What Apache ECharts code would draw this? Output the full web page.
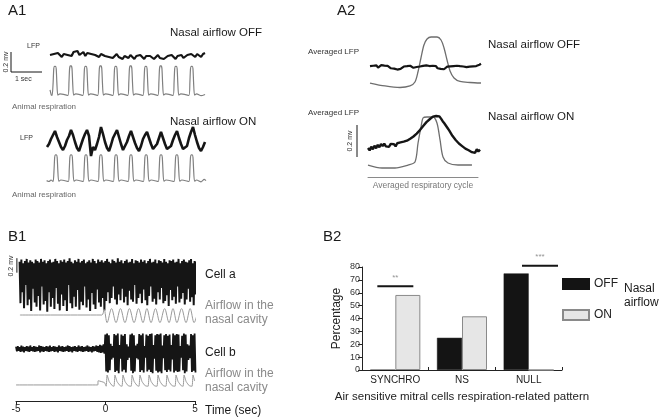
<!DOCTYPE html>
<html><head><meta charset="utf-8">
<script src="https://cdn.jsdelivr.net/npm/echarts@6/dist/echarts.min.js"></script>
<style>html,body{margin:0;padding:0;background:#fff}#c{width:661px;height:420px}</style>
</head><body><div id="c"></div>
<script>
// ---------------- DATA ----------------
// A1: LFP (mV), sampled uniformly along the trace
const lfpOffA1 = [
0.01,-0.01,0.02,0.00,0.03,0.01,-0.01,0.02,0.04,0.01,
0.03,0.00,0.04,0.02,0.05,0.01,0.03,0.04,0.00,0.03,
0.05,0.02,0.04,0.01,0.03,-0.01,0.02,0.04,0.00,0.02,
-0.01,0.01,-0.02,0.00,0.02,-0.01,0.01,-0.03,0.00,0.01,
-0.02,0.01,-0.01,-0.03,0.00,-0.02,0.01,-0.01,-0.03,0.00,
-0.02,0.00,-0.01,-0.03,-0.01,0.01,-0.02,0.00,-0.03,-0.01,
0.00,-0.02,0.01,-0.01,-0.03,0.00,-0.01,0.01,-0.02,0.00,
0.01,-0.01,0.02,0.00,-0.01,0.02,0.01,-0.01,0.02,0.03];
const lfpOnA1 = [
-0.05,-0.02,0.03,0.07,0.11,0.05,0.00,-0.05,-0.08,-0.04,
0.02,0.06,0.12,0.07,0.00,-0.06,-0.09,-0.03,0.03,0.08,
0.12,0.06,-0.14,-0.05,-0.08,-0.02,0.05,0.15,0.08,0.00,
-0.06,-0.09,-0.03,0.04,0.08,0.12,0.05,-0.02,-0.08,-0.07,
0.00,0.06,0.11,0.05,-0.01,-0.06,-0.09,-0.04,0.03,0.07,
0.10,0.04,-0.02,-0.07,-0.08,-0.02,0.04,0.10,0.04,-0.02,
-0.07,-0.09,-0.04,0.02,0.07,0.11,0.04,-0.02,-0.07,-0.09,
-0.04,0.04,0.10,0.15,0.07,0.00,-0.06,-0.09,-0.05,0.00];
// A1: animal respiration [time s, normalised amplitude]
const respOffA1 = [[0.13,0.22],[0.17,0.06],
[0.20,0.05],[0.23,0.45],[0.25,0.88],[0.275,0.96],[0.305,0.96],[0.33,0.88],[0.35,0.45],[0.38,0.06],[0.45,0.10],
[0.71,0.05],[0.74,0.45],[0.76,0.88],[0.785,0.97],[0.815,0.97],[0.84,0.88],[0.86,0.45],[0.89,0.06],[0.96,0.10],
[1.19,0.05],[1.22,0.45],[1.24,0.88],[1.265,0.96],[1.295,0.96],[1.32,0.88],[1.34,0.45],[1.37,0.06],[1.44,0.10],
[1.67,0.05],[1.70,0.45],[1.72,0.88],[1.745,0.97],[1.775,0.97],[1.80,0.88],[1.82,0.45],[1.85,0.06],[1.92,0.10],
[2.16,0.05],[2.19,0.45],[2.21,0.88],[2.235,0.96],[2.265,0.96],[2.29,0.88],[2.31,0.45],[2.34,0.06],[2.41,0.10],
[2.64,0.05],[2.67,0.45],[2.69,0.88],[2.715,0.97],[2.745,0.97],[2.77,0.88],[2.79,0.45],[2.82,0.06],[2.89,0.10],
[3.13,0.05],[3.16,0.45],[3.18,0.88],[3.205,0.96],[3.235,0.96],[3.26,0.88],[3.28,0.45],[3.31,0.06],[3.38,0.10],
[3.61,0.05],[3.64,0.45],[3.66,0.88],[3.685,0.97],[3.715,0.97],[3.74,0.88],[3.76,0.45],[3.79,0.06],[3.86,0.10],
[4.10,0.05],[4.13,0.45],[4.15,0.88],[4.175,0.96],[4.205,0.96],[4.23,0.88],[4.25,0.45],[4.28,0.06],[4.35,0.10],
[4.61,0.05],[4.64,0.45],[4.66,0.88],[4.685,0.96],[4.715,0.96],[4.74,0.88],[4.76,0.45],[4.79,0.06],[4.86,0.10],
[5.00,0.04],[5.13,0.08]];
const respOnA1 = [[0.02,0.08],[0.10,0.05],[0.16,0.10],
[0.23,0.05],[0.26,0.45],[0.28,0.86],[0.305,0.94],[0.335,0.94],[0.36,0.86],[0.38,0.45],[0.41,0.06],[0.48,0.10],
[0.72,0.05],[0.75,0.45],[0.77,0.86],[0.795,0.94],[0.825,0.94],[0.85,0.86],[0.87,0.45],[0.90,0.06],[0.97,0.10],
[1.20,0.05],[1.23,0.45],[1.25,0.86],[1.275,0.94],[1.305,0.94],[1.33,0.86],[1.35,0.45],[1.38,0.06],[1.45,0.10],
[1.68,0.05],[1.71,0.45],[1.73,0.86],[1.755,0.94],[1.785,0.94],[1.81,0.86],[1.83,0.45],[1.86,0.06],[1.93,0.10],
[2.17,0.05],[2.20,0.45],[2.22,0.86],[2.245,0.94],[2.275,0.94],[2.30,0.86],[2.32,0.45],[2.35,0.06],[2.42,0.10],
[2.65,0.05],[2.68,0.45],[2.70,0.86],[2.725,0.94],[2.755,0.94],[2.78,0.86],[2.80,0.45],[2.83,0.06],[2.90,0.10],
[3.14,0.05],[3.17,0.45],[3.19,0.86],[3.215,0.94],[3.245,0.94],[3.27,0.86],[3.29,0.45],[3.32,0.06],[3.39,0.10],
[3.62,0.05],[3.65,0.45],[3.67,0.86],[3.695,0.94],[3.725,0.94],[3.75,0.86],[3.77,0.45],[3.80,0.06],[3.87,0.10],
[4.13,0.05],[4.16,0.45],[4.18,0.86],[4.205,0.94],[4.235,0.94],[4.26,0.86],[4.28,0.45],[4.31,0.06],[4.38,0.10],
[4.61,0.05],[4.64,0.45],[4.66,0.86],[4.685,0.94],[4.715,0.94],[4.74,0.86],[4.76,0.45],[4.79,0.06],[4.86,0.10],
[5.00,0.04],[5.10,0.12],[5.16,0.08]];
const scaleA1 = [[0,0.2],[0,0],[1,0]];           // 0.2 mV / 1 s

// A2: averaged LFP (mV) over one respiratory cycle, and averaged respiration [phase, amplitude]
const lfpOffA2 = [
0.005,-0.006,0.008,0.000,0.010,-0.004,0.006,0.012,0.002,0.009,
-0.003,0.007,0.000,-0.008,0.004,-0.010,-0.004,-0.016,-0.008,-0.012,
-0.004,0.003,-0.006,0.005,-0.002,0.008,0.002,-0.005,0.006,0.000,
0.009,0.003,-0.004,0.007,0.001,0.010,-0.002,0.006,0.000,0.008,
-0.003,0.005,-0.008,-0.002,-0.012,-0.006,-0.014,-0.004,0.002,-0.006,
0.004,-0.003,0.006,0.000,0.008,-0.002,0.005,0.010,0.003,0.009,
-0.001,0.007,0.002,0.010,0.004,0.012,0.006,0.010,0.014,0.020];
const lfpOnA2 = [
0.100,0.085,0.108,0.092,0.115,0.098,0.120,0.105,0.125,0.112,
0.128,0.110,0.122,0.108,0.126,0.114,0.124,0.110,0.130,0.118,
0.135,0.124,0.140,0.130,0.146,0.138,0.158,0.150,0.172,0.165,
0.190,0.185,0.212,0.220,0.238,0.245,0.262,0.270,0.280,0.286,
0.296,0.290,0.300,0.292,0.298,0.284,0.268,0.255,0.248,0.225,
0.210,0.198,0.176,0.168,0.150,0.145,0.128,0.132,0.112,0.118,
0.096,0.104,0.086,0.094,0.074,0.084,0.070,0.092,0.078,0.090];
const respOffA2 = [[0,0.113],[0.135,0.057],[0.27,0.028],[0.36,0.057],[0.405,0.132],[0.432,0.321],[0.459,0.585],[0.486,0.83],[0.514,0.943],[0.55,0.981],[0.604,0.981],[0.64,0.925],[0.667,0.774],[0.694,0.547],[0.721,0.34],[0.757,0.208],[0.811,0.142],[0.901,0.123],[1,0.113]];
const respOnA2 = [[0,0.071],[0.127,0.018],[0.245,0.018],[0.364,0.071],[0.427,0.125],[0.455,0.464],[0.482,0.75],[0.5,0.911],[0.536,0.929],[0.591,0.929],[0.627,0.821],[0.655,0.518],[0.682,0.214],[0.727,0.107],[0.818,0.071],[0.945,0.071]];
const scaleA2 = [[0,0],[0,0.2]];

// B1: unit recordings, spike envelope (upper / lower excursion, mV) every 0.1 s
const cellATop = [
0.12,0.15,0.10,0.13,0.16,0.11,0.14,0.12,0.10,0.15,
0.13,0.11,0.16,0.12,0.14,0.10,0.13,0.15,0.11,0.12,
0.16,0.13,0.10,0.14,0.12,0.15,0.11,0.13,0.17,0.12,
0.10,0.14,0.12,0.16,0.11,0.13,0.15,0.10,0.12,0.14,
0.11,0.16,0.13,0.10,0.15,0.12,0.14,0.11,0.13,0.16,
0.12,0.10,0.15,0.13,0.11,0.17,0.12,0.14,0.10,0.13,
0.15,0.11,0.12,0.16,0.10,0.14,0.13,0.11,0.15,0.12,
0.14,0.10,0.13,0.16,0.11,0.12,0.15,0.10,0.14,0.13,
0.11,0.16,0.12,0.10,0.14,0.13,0.15,0.11,0.12,0.16,
0.10,0.13,0.15,0.12,0.11,0.14,0.16,0.10,0.13,0.12,
0.14];
const cellABot = [
-0.45,-0.30,-0.52,-0.20,-0.48,-0.40,-0.56,-0.25,-0.44,-0.50,
-0.35,-0.55,-0.22,-0.47,-0.42,-0.57,-0.30,-0.50,-0.38,-0.53,
-0.24,-0.46,-0.55,-0.33,-0.49,-0.41,-0.56,-0.20,-0.45,-0.52,
-0.36,-0.50,-0.27,-0.54,-0.43,-0.48,-0.22,-0.51,-0.40,-0.56,
-0.31,-0.47,-0.53,-0.26,-0.44,-0.50,-0.38,-0.55,
-0.42,-0.30,-0.45,-0.38,-0.22,-0.40,-0.47,-0.33,-0.41,-0.25,
-0.44,-0.36,-0.48,-0.28,-0.40,-0.43,-0.20,-0.46,-0.38,-0.32,
-0.45,-0.26,-0.41,-0.48,-0.35,-0.22,-0.43,-0.39,-0.47,-0.30,
-0.40,-0.24,-0.45,-0.42,-0.34,-0.49,-0.27,-0.41,-0.36,-0.46,
-0.22,-0.44,-0.39,-0.31,-0.47,-0.40,-0.25,-0.43,-0.37,-0.48,
-0.33,-0.42,-0.30];
const cellBTop = [
0.07,0.08,0.06,0.09,0.07,0.06,0.08,0.07,0.09,0.06,
0.08,0.07,0.06,0.09,0.08,0.07,0.06,0.08,0.07,0.09,
0.06,0.08,0.07,0.06,0.09,0.07,0.08,0.06,0.07,0.09,
0.08,0.06,0.07,0.08,0.06,0.09,0.07,0.08,0.06,0.07,
0.09,0.07,0.06,0.08,0.07,0.09,0.08,0.10,0.09,0.11,
0.28,0.30,0.27,0.12,0.08,0.29,0.27,0.30,0.10,0.28,
0.26,0.29,0.11,0.07,0.28,0.30,0.27,0.09,0.12,0.29,
0.27,0.30,0.08,0.28,0.26,0.29,0.30,0.10,0.27,0.29,
0.28,0.30,0.09,0.27,0.29,0.26,0.28,0.10,0.30,0.27,
0.29,0.28,0.08,0.26,0.30,0.28,0.11,0.09,0.29,0.27,
0.30];
const cellBBot = [
-0.01,0.00,-0.02,-0.01,-0.03,0.00,-0.01,-0.02,0.00,-0.01,
-0.02,-0.01,0.00,-0.03,-0.01,-0.02,0.00,-0.01,-0.02,-0.01,
0.00,-0.02,-0.01,-0.03,0.00,-0.01,-0.02,-0.01,0.00,-0.02,
-0.01,-0.03,0.00,-0.01,-0.02,0.00,-0.01,-0.02,-0.01,0.00,
-0.02,-0.01,-0.03,-0.01,0.00,-0.02,-0.03,-0.04,-0.03,-0.05,
-0.36,-0.38,-0.34,-0.15,-0.12,-0.37,-0.35,-0.39,-0.14,-0.36,
-0.33,-0.38,-0.16,-0.12,-0.35,-0.39,-0.36,-0.13,-0.15,-0.37,
-0.34,-0.38,-0.12,-0.36,-0.33,-0.37,-0.39,-0.14,-0.35,-0.38,
-0.36,-0.39,-0.13,-0.34,-0.37,-0.33,-0.36,-0.15,-0.38,-0.35,
-0.37,-0.36,-0.12,-0.34,-0.39,-0.36,-0.16,-0.13,-0.37,-0.35,
-0.38];
const cellAStart = -4.80, cellBStart = -5.0, spikeStep = 0.1;
// airflow in the nasal cavity [time s, normalised]
const airflowA = [[-4.78,0.5],[-0.2,0.5],[-0.07,0.78],[0.1,0.12],[0.35,0.82],[0.6,0.12],[0.85,0.82],[1.1,0.12],[1.35,0.82],[1.61,0.12],[1.86,0.82],[2.11,0.12],[2.33,0.82],[2.56,0.12],[2.81,0.82],[3.06,0.12],[3.32,0.82],[3.57,0.12],[3.79,0.82],[4.01,0.12],[4.27,0.82],[4.52,0.12],[4.75,0.82],[4.97,0.12],[5.22,0.85]];
const airflowB = [[-5,0.17],[-0.42,0.17],[-0.40,0.40],[-0.05,0.30],[0.05,0.10],
[0.10,0.72],[0.22,0.35],[0.40,0.12],[0.49,0.10],[0.54,0.72],[0.66,0.35],[0.84,0.12],
[0.94,0.10],[0.99,0.72],[1.11,0.35],[1.29,0.12],[1.45,0.10],[1.50,0.72],[1.62,0.35],[1.80,0.12],
[1.89,0.10],[1.94,0.72],[2.06,0.35],[2.24,0.12],[2.40,0.10],[2.45,0.72],[2.57,0.35],[2.75,0.12],
[2.90,0.10],[2.95,0.72],[3.07,0.35],[3.25,0.12],[3.40,0.10],[3.45,0.72],[3.57,0.35],[3.75,0.12],
[3.91,0.10],[3.96,0.72],[4.08,0.35],[4.26,0.12],[4.36,0.10],[4.41,0.72],[4.53,0.35],[4.71,0.12],
[4.86,0.10],[4.91,0.72],[5.00,0.40]];
const scaleB1 = [[-4.95,0.17],[-4.95,-0.03]];
const timeTicks = [-5, 0, 5];

// B2: percentage of air sensitive mitral cells
const categories = ['SYNCHRO', 'NS', 'NULL'];
const offValues = [0, 25, 75];
const onValues = [58.3, 41.7, 0];
const sigSynchro = [[0.23, 65], [0.77, 65]];
const sigNull = [[2.40, 81], [2.94, 81]];
const sigLabels = [['**', 0.5, 72], ['***', 2.67, 88]];

// ---------------- BUILD ----------------
const FONT = '"Liberation Sans", Arial, Helvetica, sans-serif';
const grids = [], xAxes = [], yAxes = [], series = [];
function panel(box, xr, yr, xExtra, yExtra) {
  const gi = grids.length;
  grids.push({left: box[0], top: box[1], width: box[2], height: box[3], containLabel: false});
  xAxes.push(Object.assign({type: 'value', gridIndex: gi, min: xr[0], max: xr[1], show: false}, xExtra || {}));
  yAxes.push(Object.assign({type: 'value', gridIndex: gi, min: yr[0], max: yr[1], show: false, splitLine: {show: false}}, yExtra || {}));
  return gi;
}
function line(gi, data, color, width, smooth) {
  series.push({type: 'line', xAxisIndex: gi, yAxisIndex: gi, data: data, symbol: 'none', showSymbol: false,
    smooth: smooth || false, lineStyle: {color: color, width: width}, clip: false, silent: true, animation: false,
    emphasis: {disabled: true}});
}
const idx = arr => arr.map((v, i) => [i, v]);
const zigzag = (t0, arrTop, arrBot) => {
  const out = [];
  for (let i = 0; i < arrTop.length; i++) {
    out.push([t0 + i * spikeStep, arrTop[i]]);
    out.push([t0 + i * spikeStep + spikeStep / 2, arrBot[i]]);
  }
  return out;
};
const BLACK = '#151515', GREY = '#808080';

// A1
let g;
g = panel([11, 52, 31, 20], [0, 1], [0, 0.2]); line(g, scaleA1, BLACK, 1);
g = panel([50, 46, 155, 20], [0, lfpOffA1.length - 1], [-0.1, 0.1]); line(g, idx(lfpOffA1), BLACK, 2.2);
g = panel([46, 65, 160, 32], [0, 5.16], [0, 1]); line(g, respOffA1, GREY, 1.2, 0.2);
g = panel([47, 122, 158, 40], [0, lfpOnA1.length - 1], [-0.2, 0.2]); line(g, idx(lfpOnA1), BLACK, 2.6);
g = panel([46, 153, 160, 30], [0, 5.16], [0, 1]); line(g, respOnA1, GREY, 1.2, 0.2);
// A2
g = panel([370, 36, 111, 53], [0, 1], [0, 1]); line(g, respOffA2, '#6e6e6e', 1.3, 0.3);
g = panel([370, 51, 111, 32], [0, lfpOffA2.length - 1], [-0.1, 0.1]); line(g, idx(lfpOffA2), BLACK, 2.2);
g = panel([368, 113, 110, 64], [0, 1], [-0.143, 1], {show: true, position: 'bottom',
  axisLine: {show: true, onZero: false, lineStyle: {color: '#8a8a8a', width: 1}}, axisTick: {show: false}, axisLabel: {show: false},
  splitLine: {show: false}, name: 'Averaged respiratory cycle', nameLocation: 'middle', nameGap: 4,
  nameTextStyle: {fontSize: 8.5, color: '#777', fontFamily: FONT}});
line(g, respOnA2, '#6e6e6e', 1.3, 0.3);
g = panel([368, 113, 112, 51], [0, lfpOnA2.length - 1], [0, 0.319]); line(g, idx(lfpOnA2), BLACK, 2.4);
g = panel([357, 125, 4, 32], [0, 1], [0, 0.2]); line(g, scaleA2, BLACK, 1);
// B1
g = panel([16, 256, 178.6, 58], [-5, 5], [-0.6, 0.2]);
line(g, zigzag(cellAStart, cellATop, cellABot), BLACK, 2.0); line(g, scaleB1, BLACK, 1);
g = panel([16, 305, 178.6, 20], [-5, 5], [0, 1]); line(g, airflowA, '#9a9a9a', 1, 0.35);
g = panel([16, 330, 178.6, 46], [-5, 5], [-0.44, 0.36]); line(g, zigzag(cellBStart, cellBTop, cellBBot), BLACK, 1.8);
g = panel([16, 370, 178.6, 18], [-5, 5], [0, 1]); line(g, airflowB, '#9a9a9a', 1, 0.15);
g = panel([16, 380, 179, 21], [timeTicks[0], timeTicks[timeTicks.length - 1]], [0, 1], {show: true, position: 'bottom', interval: 5,
  axisLine: {show: true, onZero: false, lineStyle: {color: '#222', width: 1}},
  axisTick: {show: true, length: 4, lineStyle: {color: '#222'}},
  axisLabel: {show: true, margin: 3, fontSize: 10, color: '#222', fontFamily: FONT},
  splitLine: {show: false}});

// B2 bar chart
const gb = grids.length;
grids.push({left: 362, top: 267, width: 200, height: 103, containLabel: false});
xAxes.push({type: 'category', gridIndex: gb, data: categories,
  axisLine: {show: true, lineStyle: {color: '#222', width: 1}},
  axisTick: {show: true, inside: true, length: 3, lineStyle: {color: '#222'}},
  axisLabel: {fontSize: 10, color: '#222', margin: 5, fontFamily: FONT},
  name: 'Air sensitive mitral cells respiration-related pattern', nameLocation: 'middle', nameGap: 21,
  nameTextStyle: {fontSize: 11.5, color: '#222', fontFamily: FONT}});
yAxes.push({type: 'value', gridIndex: gb, min: 0, max: 80, interval: 10,
  axisLine: {show: true, lineStyle: {color: '#222', width: 1}},
  axisTick: {show: true, length: 4, lineStyle: {color: '#222'}},
  axisLabel: {fontSize: 9, color: '#333', margin: 2, fontFamily: FONT},
  splitLine: {show: false},
  name: 'Percentage', nameLocation: 'middle', nameGap: 19,
  nameTextStyle: {fontSize: 12, color: '#222', fontFamily: FONT}});
series.push({type: 'bar', name: 'OFF', xAxisIndex: gb, yAxisIndex: gb, data: offValues, barWidth: 25, barGap: '0%',
  itemStyle: {color: '#141414', borderColor: '#141414', borderWidth: 0.5}, animation: false, silent: true});
series.push({type: 'bar', name: 'ON', xAxisIndex: gb, yAxisIndex: gb, data: onValues, barWidth: 25, barGap: '0%',
  itemStyle: {color: '#e6e6e6', borderColor: '#8a8a8a', borderWidth: 1}, animation: false, silent: true});
// significance overlay
g = panel([362, 267, 200, 103], [0, 3], [0, 80]);
line(g, sigSynchro, BLACK, 2); line(g, sigNull, BLACK, 2);
series.push({type: 'scatter', xAxisIndex: g, yAxisIndex: g, symbolSize: 0, silent: true, animation: false, clip: false,
  data: sigLabels.map(s => ({name: s[0], value: [s[1], s[2]]})),
  label: {show: true, position: 'inside', formatter: p => p.name, fontSize: 8, color: '#777', fontFamily: FONT}});

// ---------------- TEXT ----------------
function txt(x, y, text, size, fill, rot, align) {
  return {type: 'text', x: x, y: y, rotation: rot || 0, silent: true,
    style: {text: text, fill: fill || '#1a1a1a', font: size + 'px ' + FONT,
      textAlign: align || 'left', textVerticalAlign: 'middle'}};
}
const R = Math.PI / 2;
const texts = [
  txt(8, 11, 'A1', 15), txt(337, 11, 'A2', 15), txt(8, 237, 'B1', 15), txt(323, 237, 'B2', 15),
  txt(170, 33, 'Nasal airflow OFF', 11.5), txt(170, 122, 'Nasal airflow ON', 11.5),
  txt(27, 46, 'LFP', 7, '#333'), txt(20, 138, 'LFP', 7, '#333'),
  txt(6, 62, '0.2 mv', 7, '#333', R, 'center'), txt(15, 79, '1 sec', 7, '#333'),
  txt(12, 107, 'Animal respiration', 8, '#666'), txt(12, 195, 'Animal respiration', 8, '#666'),
  txt(488, 45, 'Nasal airflow OFF', 11.5), txt(488, 117, 'Nasal airflow ON', 11.5),
  txt(308, 52, 'Averaged LFP', 8, '#333'), txt(308, 113, 'Averaged LFP', 8, '#333'),
  txt(350, 141, '0.2 mv', 7, '#333', R, 'center'),
  txt(11, 266, '0.2 mv', 7, '#333', R, 'center'),
  txt(205, 275, 'Cell a', 12), txt(205, 306, 'Airflow in the', 12, '#8a8a8a'), txt(205, 320, 'nasal cavity', 12, '#8a8a8a'),
  txt(205, 353, 'Cell b', 12), txt(205, 374, 'Airflow in the', 12, '#8a8a8a'), txt(205, 388, 'nasal cavity', 12, '#8a8a8a'),
  txt(205, 411, 'Time (sec)', 12),
  txt(624, 289, 'Nasal', 12), txt(624, 303, 'airflow', 12)
];

const chart = echarts.init(document.getElementById('c'), null, {renderer: 'canvas'});
chart.setOption({
  animation: false,
  backgroundColor: '#ffffff',
  textStyle: {fontFamily: FONT},
  grid: grids, xAxis: xAxes, yAxis: yAxes, series: series,
  legend: {data: [{name: 'OFF', icon: 'rect'}, {name: 'ON', icon: 'rect'}], orient: 'vertical', left: 562, top: 278,
    itemWidth: 26, itemHeight: 10, itemGap: 19,
    textStyle: {fontSize: 12, color: '#222', fontFamily: FONT}, selectedMode: false, padding: 0},
  graphic: texts
});
</script>
</body></html>
